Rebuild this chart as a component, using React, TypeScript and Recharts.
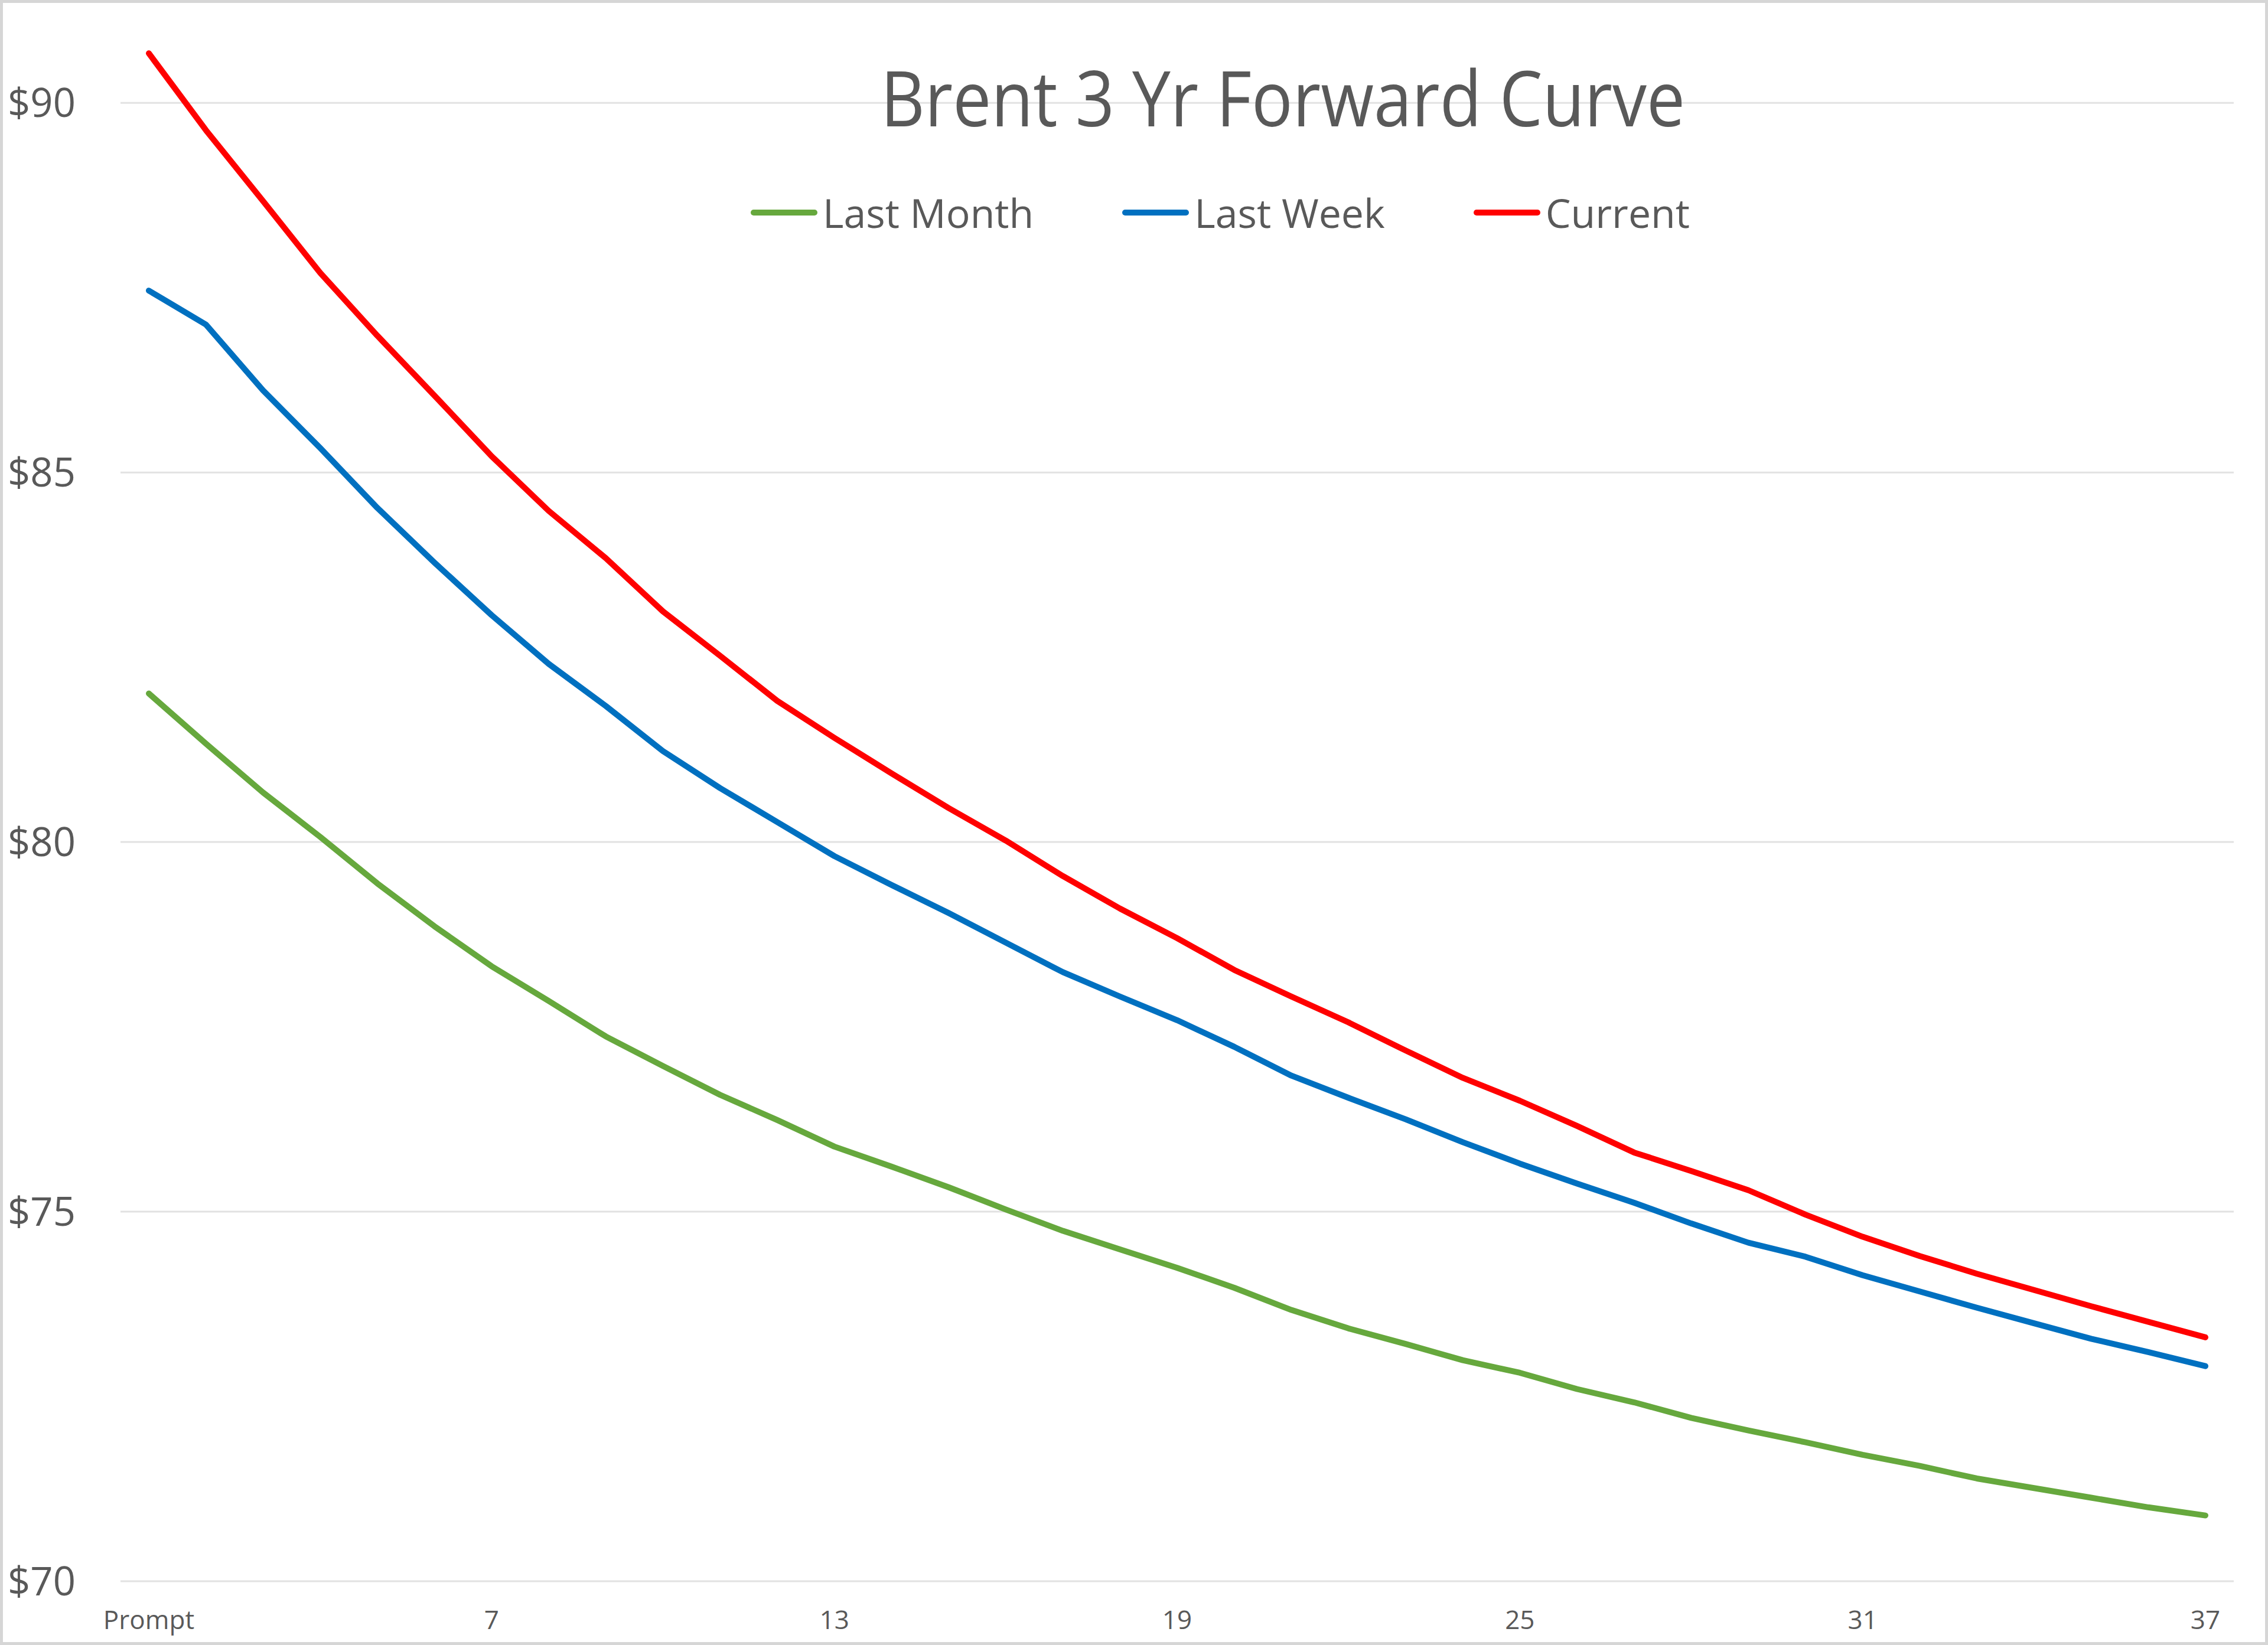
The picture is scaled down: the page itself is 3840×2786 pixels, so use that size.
import React from 'react';
import { LineChart, Line, XAxis, YAxis, CartesianGrid, Legend } from 'recharts';

const months = [
  'Prompt', '2', '3', '4', '5', '6', '7', '8', '9', '10', '11', '12', '13',
  '14', '15', '16', '17', '18', '19', '20', '21', '22', '23', '24', '25',
  '26', '27', '28', '29', '30', '31', '32', '33', '34', '35', '36', '37',
];

const lastMonth = [
  82.01, 81.33, 80.67, 80.07, 79.44, 78.86, 78.32, 77.85, 77.37, 76.97,
  76.58, 76.24, 75.88, 75.61, 75.33, 75.03, 74.74, 74.49, 74.24, 73.97,
  73.67, 73.42, 73.21, 72.99, 72.82, 72.6, 72.42, 72.21, 72.04, 71.88,
  71.71, 71.56, 71.39, 71.26, 71.13, 71.0, 70.89,
];

const lastWeek = [
  87.46, 87.0, 86.11, 85.33, 84.52, 83.78, 83.07, 82.41, 81.84, 81.23,
  80.73, 80.27, 79.81, 79.42, 79.04, 78.64, 78.24, 77.91, 77.59, 77.23,
  76.84, 76.54, 76.25, 75.94, 75.65, 75.38, 75.12, 74.84, 74.58, 74.39,
  74.14, 73.92, 73.7, 73.49, 73.28, 73.1, 72.91,
];

const current = [
  90.67, 89.63, 88.67, 87.7, 86.85, 86.04, 85.22, 84.48, 83.84, 83.12,
  82.52, 81.91, 81.41, 80.93, 80.46, 80.02, 79.54, 79.1, 78.7, 78.27,
  77.91, 77.56, 77.18, 76.81, 76.5, 76.16, 75.8, 75.55, 75.29, 74.96,
  74.66, 74.4, 74.16, 73.94, 73.72, 73.51, 73.3,
];

const yTicks = [70, 75, 80, 85, 90];

const seriesNames = ['Last Month', 'Last Week', 'Current'];
const seriesColors = ['#66A83D', '#0070C0', '#FF0000'];

const chartTitle = 'Brent 3 Yr Forward Curve';

const data = months.map((m, i) => ({
  month: m,
  lastMonth: lastMonth[i],
  lastWeek: lastWeek[i],
  current: current[i],
}));

const FONT = "'Open Sans', 'Noto Sans', sans-serif";
const TEXT = '#595959';

const renderLegend = (props: any) => {
  const payload = [...(props.payload || [])].sort(
    (a: any, b: any) => seriesNames.indexOf(a.value) - seriesNames.indexOf(b.value)
  );
  return (
    <div
      style={{
        display: 'flex',
        alignItems: 'center',
        gap: 150,
        fontFamily: FONT,
        fontSize: 68,
        color: TEXT,
        lineHeight: '80px',
        whiteSpace: 'nowrap',
      }}
    >
      {payload.map((e: any) => (
        <div key={e.value} style={{ display: 'flex', alignItems: 'center' }}>
          <span
            style={{
              display: 'inline-block',
              width: 113,
              height: 10,
              borderRadius: 5,
              background: e.color,
              marginRight: 9,
            }}
          />
          <span>{e.value}</span>
        </div>
      ))}
    </div>
  );
};

export default function App() {
  return (
    <div
      style={{
        position: 'absolute',
        left: 0,
        top: 0,
        width: 3840,
        height: 2786,
        background: '#ffffff',
        overflow: 'hidden',
      }}
    >
      <LineChart
        width={3840}
        height={2786}
        data={data}
        margin={{ top: 49, right: 58, left: 4, bottom: 8 }}
      >
        <CartesianGrid
          vertical={false}
          horizontalValues={yTicks}
          stroke="#e2e2e2"
          strokeWidth={3}
        />
        <XAxis
          dataKey="month"
          interval={5}
          padding={{ left: 48, right: 48 }}
          axisLine={false}
          tickLine={false}
          tickSize={0}
          tickMargin={50}
          height={100}
          tick={{ fill: TEXT, fontSize: 44, fontFamily: FONT }}
        />
        <YAxis
          domain={[70, 91]}
          ticks={yTicks}
          allowDataOverflow
          axisLine={false}
          tickLine={false}
          tickSize={0}
          tickMargin={76}
          width={200}
          tickFormatter={(v: number) => `$${v}`}
          tick={{ fill: TEXT, fontSize: 67, fontFamily: FONT }}
        />
        <Legend
          layout="horizontal"
          verticalAlign="middle"
          align="center"
          content={renderLegend}
          wrapperStyle={{ top: 320, left: 1271, width: 1800 }}
        />
        <Line
          type="linear"
          dataKey="lastMonth"
          name={seriesNames[0]}
          stroke={seriesColors[0]}
          strokeWidth={10}
          strokeLinecap="round"
          strokeLinejoin="round"
          dot={false}
          activeDot={false}
          isAnimationActive={false}
        />
        <Line
          type="linear"
          dataKey="lastWeek"
          name={seriesNames[1]}
          stroke={seriesColors[1]}
          strokeWidth={10}
          strokeLinecap="round"
          strokeLinejoin="round"
          dot={false}
          activeDot={false}
          isAnimationActive={false}
        />
        <Line
          type="linear"
          dataKey="current"
          name={seriesNames[2]}
          stroke={seriesColors[2]}
          strokeWidth={10}
          strokeLinecap="round"
          strokeLinejoin="round"
          dot={false}
          activeDot={false}
          isAnimationActive={false}
        />
      </LineChart>
      <svg
        width={3840}
        height={2786}
        style={{ position: 'absolute', left: 0, top: 0, pointerEvents: 'none' }}
      >
        <text
          x={2172}
          y={214}
          textAnchor="middle"
          fontFamily={FONT}
          fontSize={130}
          fill={TEXT}
          textLength={1362}
          lengthAdjust="spacingAndGlyphs"
        >
          {chartTitle}
        </text>
      </svg>
      <div
        style={{
          position: 'absolute',
          left: 0,
          top: 0,
          width: 3840,
          height: 2786,
          boxSizing: 'border-box',
          border: '5px solid #d6d6d6',
          pointerEvents: 'none',
        }}
      />
    </div>
  );
}
